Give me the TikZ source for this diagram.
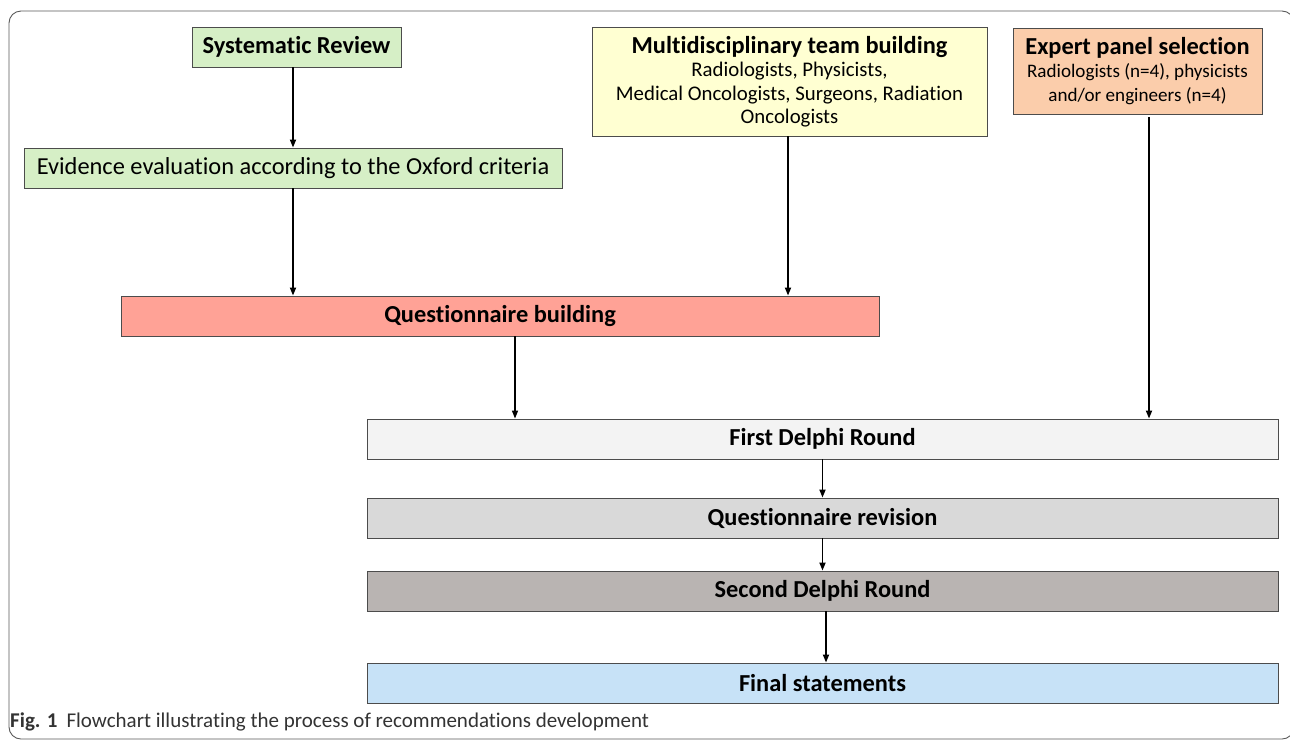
\documentclass[tikz,border=0pt]{standalone}
\usepackage{fontspec}
\setmainfont{Carlito}[Ligatures=CommonOff]
\usetikzlibrary{arrows.meta,shadows}
\definecolor{grn}{HTML}{D6EFC6}
\definecolor{yel}{HTML}{FFFFD2}
\definecolor{pch}{HTML}{FBCDAB}
\definecolor{sal}{HTML}{FFA296}
\definecolor{g1}{HTML}{F3F3F3}
\definecolor{g2}{HTML}{D9D9D9}
\definecolor{g3}{HTML}{B9B4B2}
\definecolor{blu}{HTML}{C7E2F7}
\begin{document}
\begin{tikzpicture}[x=1pt,y=-1pt,
  box/.style={draw=black!70, line width=0.9pt, inner sep=0pt, align=center,
    drop shadow={shadow xshift=1.2pt, shadow yshift=-1.2pt, opacity=0.35}},
  arr/.style={-{Triangle[length=8pt,width=6pt]}, line width=1.7pt},
  arrthin/.style={-{Triangle[length=8pt,width=6pt]}, line width=1.3pt},
  big/.style={font=\fontsize{24.4}{28}\selectfont\bfseries},
  reg/.style={font=\fontsize{24.4}{28}\selectfont}]
\useasboundingbox (0,0) rectangle (1290,740);
\draw[black!65, line width=0.9pt, rounded corners=12pt] (9,11) rectangle (1294,739);

\node[box, big, fill=grn, minimum width=209pt, minimum height=40pt] (sr) at (296.5,47) {Systematic Review};
\node[box, reg, fill=grn, minimum width=538pt, minimum height=40pt] (ee) at (293,168) {Evidence evaluation according to the Oxford criteria};
\node[box, fill=yel, minimum width=395pt, minimum height=109pt, font=\fontsize{20.8}{23.5}\selectfont] (mdt) at (789.5,81.5)
  {{\fontsize{24.4}{28}\selectfont\bfseries Multidisciplinary team building}\\[0pt]
   Radiologists, Physicists,\\ Medical Oncologists, Surgeons, Radiation\\ Oncologists};
\node[box, fill=pch, minimum width=249pt, minimum height=86pt, font=\fontsize{19.1}{23.5}\selectfont] (ep) at (1137.5,71)
  {{\fontsize{24.4}{28}\selectfont\bfseries Expert panel selection}\\[0pt]
   Radiologists (n=4), physicists\\ and/or engineers (n=4)};
\node[box, big, fill=sal, minimum width=758pt, minimum height=40pt] (qb) at (500,316) {Questionnaire building};
\node[box, big, fill=g1, minimum width=911pt, minimum height=40pt] (fdr) at (822.5,439) {First Delphi Round};
\node[box, big, fill=g2, minimum width=911pt, minimum height=40pt] (qr) at (822.5,518) {Questionnaire revision};
\node[box, big, fill=g3, minimum width=911pt, minimum height=40pt] (sd) at (822.5,591) {Second Delphi Round};
\node[box, big, fill=blu, minimum width=911pt, minimum height=40pt] (fs) at (822.5,683) {Final statements};

\node[anchor=base west, inner sep=0pt, text=black!80, font=\fontsize{21}{24}\selectfont] (cap) at (10,727)
  {\textbf{Fig. 1}\hspace{9pt}Flowchart illustrating the process of recommendations development};

\draw[arr] (ee.north |- sr.south) -- (ee.north);
\draw[arr] (ee.south) -- (ee.south |- qb.north);
\draw[arr] ([xshift=-1.5pt]mdt.south) -- ([xshift=-1.5pt]mdt.south |- qb.north);
\coordinate (epo) at ([xshift=11.5pt, yshift=-3pt]ep.south);
\draw[arr] (epo) -- (epo |- fdr.north);
\coordinate (qbo) at ([xshift=15pt]qb.south);
\draw[arrthin] (qbo) -- (qbo |- fdr.north);
\draw[arr] (fdr.south) -- (qr.north);
\draw[arr] (qr.south) -- (sd.north);
\coordinate (sdo) at ([xshift=3.5pt]sd.south);
\draw[arr] (sdo) -- (sdo |- fs.north);
\end{tikzpicture}
\end{document}
